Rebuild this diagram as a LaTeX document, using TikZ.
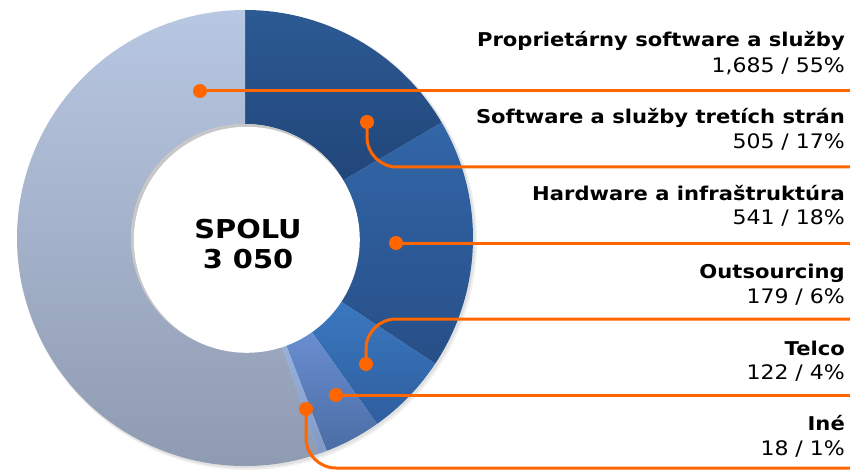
\documentclass[tikz,border=0pt]{standalone}
\usepackage{fontspec}
\setmainfont{DejaVu Sans}
\newfontfamily\titlefont{DejaVu Sans Bold}[FakeStretch=1.11]
\newfontfamily\valuefont{DejaVu Sans}[FakeStretch=1.10]
\usepackage{tikz}
\usetikzlibrary{positioning}
\definecolor{propTop}{HTML}{B8C7E2}
\definecolor{propBot}{HTML}{8C98AE}
\definecolor{softTop}{HTML}{2C5A93}
\definecolor{softBot}{HTML}{21467A}
\definecolor{hwTop}{HTML}{3266A8}
\definecolor{hwBot}{HTML}{274F87}
\definecolor{outTop}{HTML}{3B78C0}
\definecolor{outBot}{HTML}{2E5E9F}
\definecolor{telTop}{HTML}{6A8ED0}
\definecolor{telBot}{HTML}{4A6DA5}
\definecolor{ineTop}{HTML}{98B2DE}
\definecolor{ineBot}{HTML}{8199C6}
\definecolor{leader}{HTML}{FF6600}

\begin{document}
\begin{tikzpicture}[x=1pt,y=1pt,
	dot/.style={circle,fill=leader,inner sep=0pt,minimum size=14pt},
	lead/.style={draw=leader,line width=3pt,rounded corners=30pt},
	title/.style={anchor=base east,inner sep=0pt,font=\fontsize{19}{22}\titlefont},
	value/.style={anchor=base east,inner sep=0pt,font=\fontsize{20}{22}\valuefont},
	total/.style={anchor=base,inner sep=0pt,font=\fontsize{26}{30}\titlefont}]
	\fill[white] (0,0) rectangle (850,469);
	\useasboundingbox (0,0) rectangle (850,469);
	% soft shadow under the ring
	\fill[black,opacity=0.06] (247.5,228.5) circle (229.5);
	\fill[black,opacity=0.06] (246.5,229.5) circle (228.8);
	% ring, clockwise from the top
	\begin{scope}[shift={(245,231)}]
		\shade[top color=softTop,bottom color=softBot] (90:228) arc (90:30.39:228) -- (30.39:114) arc (30.39:90:114) -- cycle;
		\shade[top color=hwTop,bottom color=hwBot] (30.39:228) arc (30.39:-33.47:228) -- (-33.47:114) arc (-33.47:30.39:114) -- cycle;
		\shade[top color=outTop,bottom color=outBot] (-33.47:228) arc (-33.47:-54.60:228) -- (-54.60:114) arc (-54.60:-33.47:114) -- cycle;
		\shade[top color=telTop,bottom color=telBot] (-54.60:228) arc (-54.60:-69.00:228) -- (-69.00:114) arc (-69.00:-54.60:114) -- cycle;
		\shade[top color=ineTop,bottom color=ineBot] (-69.00:228) arc (-69.00:-71.12:228) -- (-71.12:114) arc (-71.12:-69.00:114) -- cycle;
		\shade[top color=propTop,bottom color=propBot] (-71.12:228) arc (-71.12:-270:228) -- (90:114) arc (-270:-71.12:114) -- cycle;
		% hole with its inner shadow
		\fill[black!22] (0,0) circle (114);
		\fill[white] (1.8,-1.8) circle (113);
	\end{scope}
	\node[total] (totalT) at (248,231) {SPOLU};
	\node[total] (totalV) at (248,201) {3 050};
	% dots on the slices
	\node[dot] (prop) at (200,378) {};
	\node[dot] (soft) at (367,347) {};
	\node[dot] (hw) at (396,226) {};
	\node[dot] (outs) at (366,105) {};
	\node[dot] (tel) at (336,74) {};
	\node[dot] (ine) at (306,60) {};
	\coordinate (propE) at (850,378);
	\coordinate (softE) at (850,302);
	\coordinate (hwE) at (850,226);
	\coordinate (outsE) at (850,150);
	\coordinate (telE) at (850,74);
	\coordinate (ineE) at (850,1);
	\draw[lead] (prop) -- (propE);
	\draw[lead] (soft) |- (softE);
	\draw[lead] (hw) -- (hwE);
	\draw[lead] (outs) |- (outsE);
	\draw[lead] (tel) -- (telE);
	\draw[lead] (ine) |- (ineE);
	% labels
	\node[title] (propT) at (845,422) {Proprietárny software a služby};
	\node[value] (propV) at (845,396) {1,685 / 55\%};
	\node[title] (softT) at (845,345) {Software a služby tretích strán};
	\node[value] (softV) at (845,320) {505 / 17\%};
	\node[title] (hwT) at (845,268) {Hardware a infraštruktúra};
	\node[value] (hwV) at (845,244) {541 / 18\%};
	\node[title] (outsT) at (845,191) {Outsourcing};
	\node[value] (outsV) at (845,166) {179 / 6\%};
	\node[title] (telT) at (845,114) {Telco};
	\node[value] (telV) at (845,90) {122 / 4\%};
	\node[title] (ineT) at (845,39) {Iné};
	\node[value] (ineV) at (845,14) {18 / 1\%};
\end{tikzpicture}
\end{document}
